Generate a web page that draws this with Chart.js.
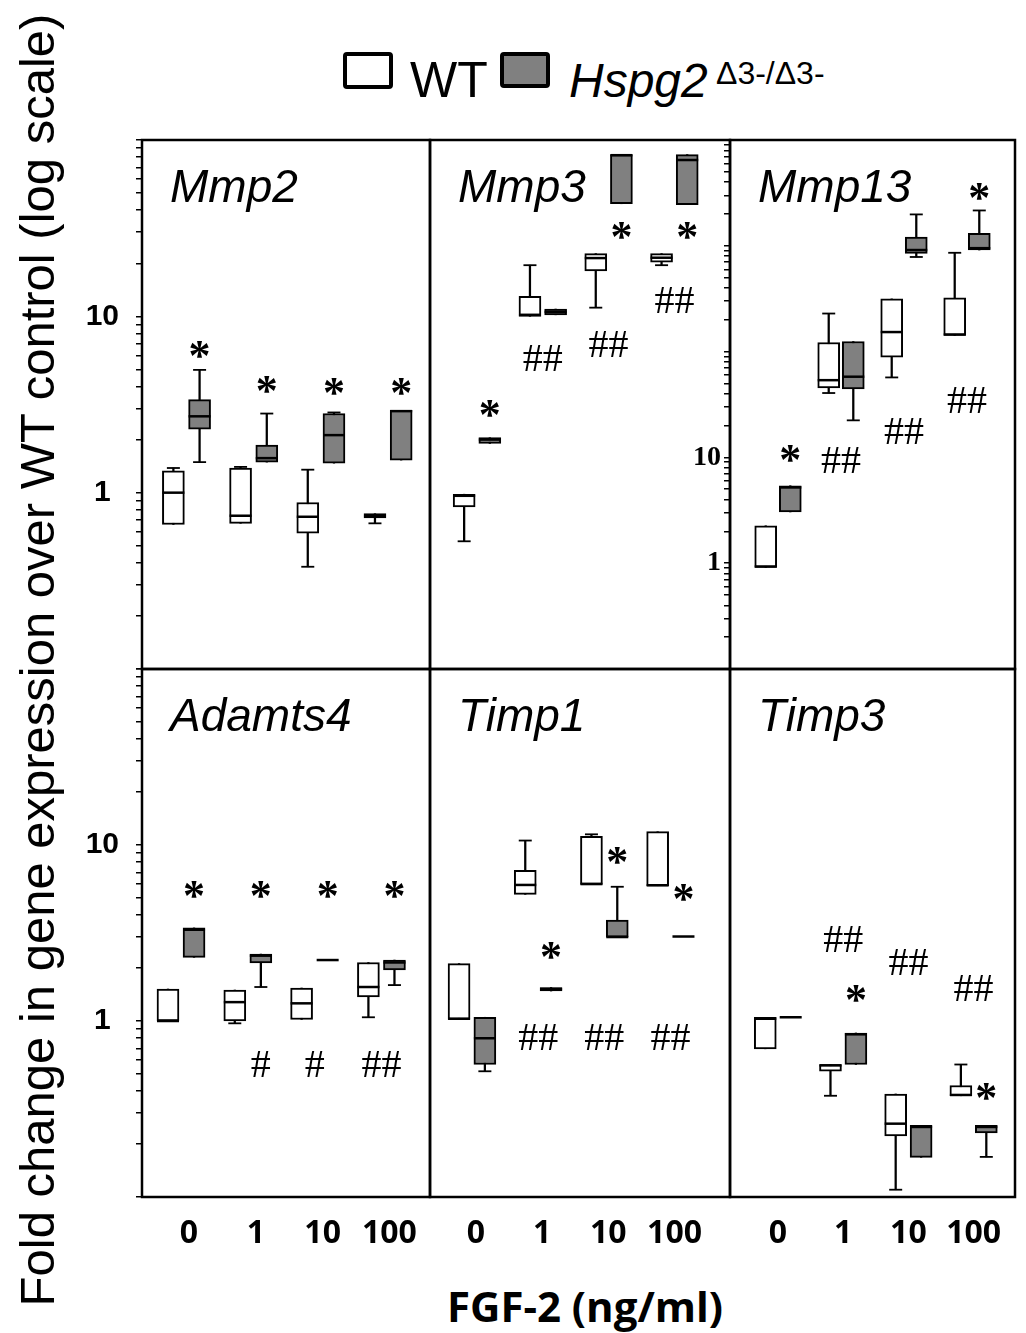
<!DOCTYPE html>
<html>
<head>
    <title>FGF-2 dose response, WT vs Hspg2</title>
    <style>
        body {
            margin: 0;
            background: #fff;
            font-family: "Liberation Sans", Arial, sans-serif;
        }
        #fig {
            position: relative;
            width: 1026px;
            height: 1333px;
            overflow: hidden;
        }
        .panel {
            position: absolute;
        }
        .txt {
            position: absolute;
            white-space: nowrap;
            line-height: 1;
            color: #000;
        }
        .box {
            position: absolute;
            box-sizing: border-box;
            border: 4px solid #000;
            border-radius: 4px;
        }
        #ytitle {
            position: absolute;
            left: 37px;
            top: 660px;
            transform: translate(-50%, -50%) rotate(-90deg);
            white-space: nowrap;
            font-size: 49px;
            line-height: 1;
        }
        #xtitle {
            position: absolute;
            left: 585px;
            top: 1306px;
            transform: translate(-50%, -50%);
            white-space: nowrap;
            font: bold 42px "Open Sans";
            line-height: 1;
        }
    </style>
</head>
<body>
<div id="fig">
    <div class="box" style="left:343px; top:52px; width:50px; height:37px; background:#fff;"></div>
    <span class="txt" style="left:410px; top:55px; font-size:50px;">WT</span>
    <div class="box" style="left:500px; top:52px; width:50px; height:36px; background:#808080;"></div>
    <span class="txt" style="left:569px; top:57px; font-size:48px; font-style:italic;">Hspg2</span>
    <span class="txt" style="left:716px; top:57px; font-size:32px;">&Delta;3-/&Delta;3-</span>

    <div id="ytitle">Fold change in gene expression over WT control (log scale)</div>
    <div id="xtitle">FGF-2 (ng/ml)</div>
</div>

<script src="https://cdn.jsdelivr.net/npm/chart.js"></script>
<script>
    // FGF-2 doses (x categories)
    var doses = ['0', '1', '10', '100'];
    var genes = ['Mmp2', 'Mmp3', 'Mmp13', 'Adamts4', 'Timp1', 'Timp3'];
    // decades that carry a number on the y axes
    var axisLabels = [1, 10];

    // box stats per dose: [min, q1, median, q3, max]
    var mmp2WT = [[0.66, 0.66, 1.0, 1.33, 1.38], [0.67, 0.67, 0.74, 1.38, 1.40], [0.38, 0.59, 0.73, 0.88, 1.35], [0.67, 0.72, 0.74, 0.76, 0.76]];
    var mmp2KO = [[1.49, 2.29, 2.71, 3.37, 4.97], [1.49, 1.49, 1.57, 1.86, 2.81], [1.47, 1.47, 2.12, 2.81, 2.85], [1.53, 1.53, 2.9, 2.93, 2.93]];

    var mmp3WT = [[0.53, 0.83, 0.96, 0.98, 0.98], [10.0, 10.0, 10.2, 13.0, 19.5], [11.2, 18.1, 21.4, 22.7, 22.7], [19.5, 20.3, 21.5, 22.7, 22.7]];
    var mmp3KO = [[1.9, 1.9, 2.0, 2.05, 2.05], [10.2, 10.2, 10.6, 11.0, 11.0], [43.5, 43.5, 82, 82.7, 82.7], [43, 43, 77, 82.7, 82.7]];

    var mmp13WT = [[0.91, 0.91, 0.93, 2.26, 2.26], [40.6, 45.4, 53.7, 122, 229], [57, 88.5, 153, 315, 315], [142, 142, 145, 322, 859]];
    var mmp13KO = [[3.05, 3.05, 5.2, 5.4, 5.4], [22.4, 44.4, 57.9, 124.5, 124.5], [784, 845, 912, 1211, 1980], [912, 912, 950, 1315, 2158]];

    var adamts4WT = [[1.0, 1.0, 1.0, 1.52, 1.52], [0.97, 1.0, 1.28, 1.5, 1.5], [1.02, 1.02, 1.26, 1.54, 1.54], [1.05, 1.37, 1.56, 2.15, 2.15]];
    var adamts4KO = [[2.3, 2.3, 3.3, 3.38, 3.38], [1.56, 2.14, 2.35, 2.4, 2.4], [2.22, 2.22, 2.22, 2.22, 2.22], [1.6, 1.95, 2.15, 2.22, 2.22]];

    var timp1WT = [[1.02, 1.02, 1.03, 2.12, 2.12], [5.24, 5.24, 5.93, 7.17, 10.6], [5.98, 5.98, 6.0, 11.2, 11.5], [5.87, 5.87, 5.9, 11.9, 11.9]];
    var timp1KO = [[0.518, 0.566, 0.798, 1.05, 1.05], [1.48, 1.48, 1.52, 1.55, 1.55], [2.99, 2.99, 3.0, 3.75, 5.79], [3.02, 3.02, 3.02, 3.02, 3.02]];

    var timp3WT = [[0.695, 0.695, 1.03, 1.048, 1.048], [0.376, 0.518, 0.56, 0.566, 0.566], [0.11, 0.222, 0.261, 0.385, 0.385], [0.376, 0.376, 0.38, 0.43, 0.566]];
    var timp3KO = [[1.05, 1.05, 1.05, 1.05, 1.05], [0.566, 0.566, 0.84, 0.855, 0.855], [0.168, 0.168, 0.25, 0.255, 0.255], [0.169, 0.231, 0.25, 0.255, 0.255]];

    // significance marks: [symbol, dose index, 'WT' | 'KO' | 'mid', fold value]
    var mmp2Marks = [['*', 0, 'KO', 6.5], ['*', 1, 'KO', 4.1], ['*', 2, 'KO', 4.0], ['*', 3, 'KO', 4.0]];
    var mmp3Marks = [['*', 0, 'KO', 3.0], ['##', 1, 'mid', 5.8], ['##', 2, 'mid', 7.0], ['*', 2, 'KO', 30.5], ['*', 3, 'KO', 30.5], ['##', 3, 'mid', 12.3]];
    var mmp13Marks = [['*', 0, 'KO', 10.8], ['##', 1, 'mid', 9.55], ['##', 2, 'mid', 17.6], ['##', 3, 'mid', 34.9], ['*', 3, 'KO', 3243]];
    var adamts4Marks = [['*', 0, 'KO', 5.62], ['*', 1, 'KO', 5.62], ['*', 2, 'KO', 5.62], ['*', 3, 'KO', 5.62],
                        ['#', 1, 'KO', 0.57], ['#', 2, 'mid', 0.57], ['##', 3, 'mid', 0.57]];
    var timp1Marks = [['*', 1, 'KO', 2.5], ['*', 2, 'KO', 8.77], ['*', 3, 'KO', 5.4],
                      ['##', 1, 'mid', 0.815], ['##', 2, 'mid', 0.815], ['##', 3, 'mid', 0.815]];
    var timp3Marks = [['##', 1, 'mid', 2.92], ['*', 1, 'KO', 1.44], ['##', 2, 'mid', 2.17], ['##', 3, 'mid', 1.54], ['*', 3, 'KO', 0.395]];

    var OFF = 0.195;   // WT / KO shift from the dose position
    var PAD = 3;
    var KO_GRAY = '#808080';

    // layout of each panel: plot area in page pixels, axis sizes, x range
    var panels = [
        {gene: genes[0], wt: mmp2WT, ko: mmp2KO, marks: mmp2Marks, area: [142, 140, 430, 669], ymax: 100, xr: [-0.662, 3.624], axis: 'left'},
        {gene: genes[1], wt: mmp3WT, ko: mmp3KO, marks: mmp3Marks, area: [430, 140, 730, 669], ymax: 100, xr: [-0.714, 3.845], axis: null},
        {gene: genes[2], wt: mmp13WT, ko: mmp13KO, marks: mmp13Marks, area: [730, 140, 1015, 669], ymax: 10000, xr: [-0.762, 3.762], axis: 'serif'},
        {gene: genes[3], wt: adamts4WT, ko: adamts4KO, marks: adamts4Marks, area: [142, 669, 430, 1197], ymax: 100, xr: [-0.584, 3.727], axis: 'left', xlab: 8},
        {gene: genes[4], wt: timp1WT, ko: timp1KO, marks: timp1Marks, area: [430, 669, 730, 1197], ymax: 100, xr: [-0.634, 3.898], axis: null, xlab: 4},
        {gene: genes[5], wt: timp3WT, ko: timp3KO, marks: timp3Marks, area: [730, 669, 1015, 1197], ymax: 100, xr: [-0.736, 3.635], axis: null, xlab: 0}
    ];

    // log ticks 1..9 in every decade
    function decadeTicks(min, max) {
        var out = [];
        for (var e = Math.round(Math.log10(min)); e < Math.round(Math.log10(max)); e++) {
            for (var s = 1; s < 10; s++) out.push({value: Number((s * Math.pow(10, e)).toPrecision(2))});
        }
        out.push({value: max});
        return out;
    }

    function boxes(stats, dx, fill) {
        return {
            type: 'bar', order: 3, grouped: false,
            data: stats.map(function (s, i) { return {x: i + dx, y: [s[1], s[3]]}; }),
            backgroundColor: fill, borderColor: '#000', borderWidth: 2, borderSkipped: false,
            barThickness: 22
        };
    }
    function whiskers(stats, dx) {
        return {
            type: 'bar', order: 4, grouped: false,
            data: stats.map(function (s, i) { return {x: i + dx, y: [s[0], s[4]]}; }),
            backgroundColor: '#000', borderWidth: 0, barThickness: 1.6
        };
    }
    function medians(stats, dx) {
        return {
            type: 'line', order: 2, showLine: false,
            data: stats.map(function (s, i) { return {x: i + dx, y: s[2]}; }),
            pointStyle: 'line', pointRadius: 11, pointBorderWidth: 2.5, pointBorderColor: '#000'
        };
    }
    function caps(stats, dx) {
        var pts = [];
        stats.forEach(function (s, i) {
            if (s[0] < s[1]) pts.push({x: i + dx, y: s[0]});
            if (s[4] > s[3]) pts.push({x: i + dx, y: s[4]});
        });
        return {
            type: 'line', order: 1, showLine: false, data: pts,
            pointStyle: 'line', pointRadius: 6.5, pointBorderWidth: 1.8, pointBorderColor: '#000'
        };
    }

    // frame, gene name and significance marks
    function decor(p) {
        return {
            id: 'decor',
            afterDatasetsDraw: function (chart) {
                var ctx = chart.ctx, a = chart.chartArea;
                var xs = chart.scales.x, ys = chart.scales.y;
                ctx.save();
                ctx.strokeStyle = '#000';
                ctx.lineWidth = 2.5;
                ctx.strokeRect(a.left, a.top, a.right - a.left, a.bottom - a.top);
                ctx.fillStyle = '#000';
                ctx.font = 'italic 46px "Liberation Sans"';
                ctx.textAlign = 'left';
                ctx.textBaseline = 'alphabetic';
                ctx.fillText(p.gene, a.left + 28, a.top + 62);
                ctx.textAlign = 'center';
                p.marks.forEach(function (m) {
                    var dx = m[2] === 'WT' ? -OFF : (m[2] === 'KO' ? OFF : 0);
                    var x = xs.getPixelForValue(m[1] + dx);
                    var y = ys.getPixelForValue(m[3]);
                    ctx.font = m[0] === '*' ? 'bold 44px "Liberation Serif"' : '40px "Liberation Serif"';
                    var tm = ctx.measureText(m[0]);
                    ctx.fillText(m[0], x, y + (tm.actualBoundingBoxAscent - tm.actualBoundingBoxDescent) / 2);
                });
                ctx.restore();
            }
        };
    }

    var fig = document.getElementById('fig');

    panels.forEach(function (p) {
        var axisW = p.axis === 'left' ? 72 : (p.axis === 'serif' ? 45 : 0);
        var axisH = p.xlab !== undefined ? 60 : 0;
        var div = document.createElement('div');
        div.className = 'panel';
        div.style.left = (p.area[0] - axisW - PAD) + 'px';
        div.style.top = (p.area[1] - PAD) + 'px';
        div.style.width = (p.area[2] - p.area[0] + axisW + 2 * PAD) + 'px';
        div.style.height = (p.area[3] - p.area[1] + axisH + 2 * PAD) + 'px';
        var canvas = document.createElement('canvas');
        div.appendChild(canvas);
        fig.appendChild(div);

        var yScale = {
            type: 'logarithmic', min: 0.1, max: p.ymax,
            display: axisW > 0,
            border: {display: false},
            grid: {drawOnChartArea: false, drawTicks: true, tickLength: 6, color: '#000', lineWidth: 1.5},
            afterBuildTicks: function (s) { s.ticks = decadeTicks(0.1, p.ymax); },
            afterFit: function (s) { s.width = axisW; s.paddingTop = 0; s.paddingBottom = 0; },
            ticks: {
                autoSkip: false,
                color: '#000',
                crossAlign: p.axis === 'serif' ? 'near' : 'center',
                padding: p.axis === 'serif' ? 3 : 17,
                font: p.axis === 'serif' ? {family: 'Liberation Serif', weight: 'bold', size: 28}
                                         : {family: 'Liberation Sans', weight: 'bold', size: 30},
                callback: function (v) { return axisLabels.indexOf(v) >= 0 ? String(v) : ''; }
            }
        };
        var xScale = {
            type: 'linear', min: p.xr[0], max: p.xr[1], offset: false,
            display: axisH > 0,
            border: {display: false},
            grid: {display: false, drawTicks: false},
            afterBuildTicks: function (s) { s.ticks = doses.map(function (d, i) { return {value: i}; }); },
            afterFit: function (s) { s.height = axisH; s.paddingLeft = 0; s.paddingRight = 0; },
            ticks: {
                autoSkip: false, maxRotation: 0, color: '#000', padding: 18,
                labelOffset: p.xlab || 0,
                font: {family: 'Open Sans', weight: 'bold', size: 32},
                callback: function (v) { return doses[v]; }
            }
        };

        new Chart(canvas, {
            type: 'bar',
            data: {
                datasets: [
                    caps(p.wt, -OFF), caps(p.ko, OFF),
                    medians(p.wt, -OFF), medians(p.ko, OFF),
                    boxes(p.wt, -OFF, '#ffffff'), boxes(p.ko, OFF, KO_GRAY),
                    whiskers(p.wt, -OFF), whiskers(p.ko, OFF)
                ]
            },
            options: {
                responsive: true,
                maintainAspectRatio: false,
                animation: false,
                events: [],
                layout: {padding: PAD, autoPadding: false},
                plugins: {legend: {display: false}, tooltip: {enabled: false}},
                scales: {x: xScale, y: yScale}
            },
            plugins: [decor(p)]
        });
    });
</script>
</body>
</html>
